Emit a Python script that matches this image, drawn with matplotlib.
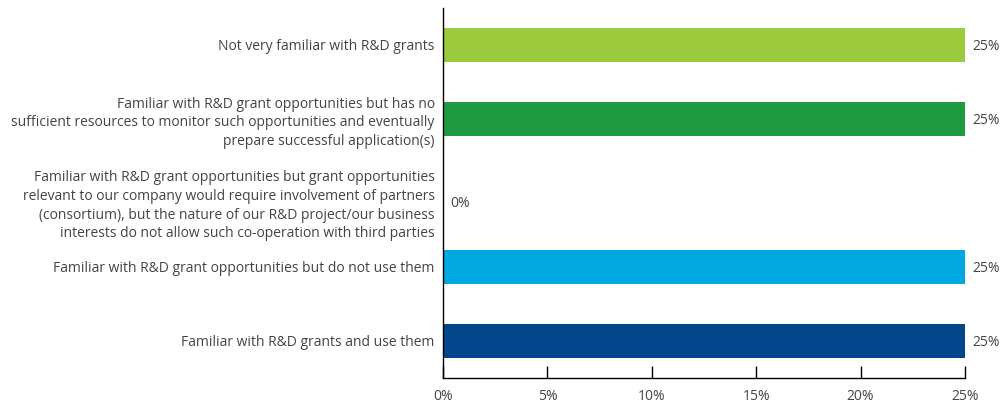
import matplotlib
matplotlib.use('Agg')
import matplotlib.pyplot as plt
import matplotlib.transforms as mtransforms

plt.rcParams['font.family'] = ['Open Sans', 'DejaVu Sans']
plt.rcParams['font.size'] = 10

# bottom to top
labels = [
    'Familiar with R&D grants and use them',
    'Familiar with R&D grant opportunities but do not use them',
    'Familiar with R&D grant opportunities but grant opportunities\n'
    'relevant to our company would require involvement of partners\n'
    '(consortium), but the nature of our R&D project/our business\n'
    'interests do not allow such co-operation with third parties',
    'Familiar with R&D grant opportunities but has no\n'
    'sufficient resources to monitor such opportunities and eventually\n'
    'prepare successful application(s)',
    'Not very familiar with R&D grants',
]
values = [25, 25, 0, 25, 25]
colors = ['#03468C', '#00A8E1', '#FFFFFF', '#1E9A40', '#9BCB3C']
xticks = [0, 5, 10, 15, 20, 25]

text_color = '#444444'

fig = plt.figure(figsize=(10.08, 4.04), dpi=100)
ax = fig.add_axes([443 / 1008, 26 / 404, 522 / 1008, 370 / 404])

ypos = list(range(len(labels)))
ax.barh(ypos, values, height=0.47, color=colors)

# the long four-line label sits a little low, with its value label
shift_down = mtransforms.ScaledTranslation(0, -9 / 100, fig.dpi_scale_trans)

for y, v in zip(ypos, values):
    t = ax.text(v + 0.35, y - 0.02, f'{v}%', va='center', ha='left', color=text_color)
    if labels[y].count('\n') == 3:
        t.set_transform(t.get_transform() + shift_down)

ax.set_xlim(0, 25)
ax.set_ylim(-0.5, 4.5)
ax.set_yticks(ypos)
ax.set_yticklabels(labels, color=text_color, linespacing=1.33)
ax.tick_params(axis='y', length=0, pad=6)
for lbl in ax.get_yticklabels():
    if lbl.get_text().count('\n') == 3:
        lbl.set_transform(lbl.get_transform() + shift_down)
ax.set_xticks(xticks)
ax.set_xticklabels([f'{t}%' for t in xticks], color=text_color)
ax.tick_params(axis='x', direction='in', length=9, width=1, pad=8, colors='black', labelcolor=text_color)

for s in ['top', 'right']:
    ax.spines[s].set_visible(False)
for s in ['left', 'bottom']:
    ax.spines[s].set_color('black')
    ax.spines[s].set_linewidth(1)

fig.savefig('out.png', dpi=100)
